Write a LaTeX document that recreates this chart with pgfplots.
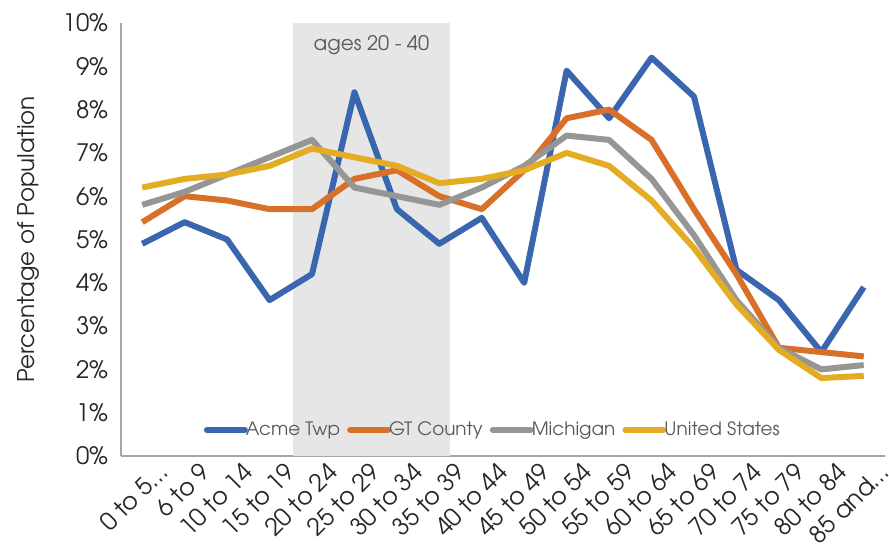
\documentclass[border=0pt]{standalone}
\usepackage{pgfplots}
\pgfplotsset{compat=1.18}
\usepackage{fontspec}
\setmainfont{texgyreadventor}[Extension=.otf, UprightFont=*-regular, BoldFont=*-bold]
\definecolor{acme}{HTML}{3A66B0}
\definecolor{gtc}{HTML}{D9702A}
\definecolor{mich}{HTML}{969696}
\definecolor{usa}{HTML}{E3AC22}
\definecolor{band}{HTML}{E6E6E6}
\definecolor{axgray}{HTML}{A6A6A6}
\definecolor{txt}{HTML}{262626}
\definecolor{legtxt}{HTML}{595959}
\begin{document}
\begin{tikzpicture}
\begin{axis}[
  scale only axis, width=382pt, height=216.5pt,
  xmin=-0.5, xmax=17.5, ymin=0, ymax=10,
  axis x line*=bottom, axis y line*=left,
  axis line style={draw=axgray, line width=0.8pt},
  major tick length=0pt,
  xtick={0,...,17},
  xticklabels={0 to 5…,6 to 9,10 to 14,15 to 19,20 to 24,25 to 29,30 to 34,35 to 39,40 to 44,45 to 49,50 to 54,55 to 59,60 to 64,65 to 69,70 to 74,75 to 79,80 to 84,85 and…},
  ytick={0,...,10},
  yticklabels={0\%,1\%,2\%,3\%,4\%,5\%,6\%,7\%,8\%,9\%,10\%},
  tick label style={font=\fontsize{12}{14}\selectfont, text=txt},
  x tick label style={rotate=45, anchor=east, xshift=6.5pt, yshift=-11.5pt},
  y tick label style={xshift=-3pt},
  ylabel={Percentage of Population},
  ylabel style={font=\fontsize{11.5}{13}\selectfont, text=txt, yshift=5pt},
  legend style={at={(0.488,0.06)}, anchor=center, draw=none, fill=none,
    font=\fontsize{9.2}{11}\selectfont, text=legtxt,
    /tikz/every even column/.append style={column sep=1.5pt},
    /tikz/every odd column/.append style={column sep=-3pt}},
  legend columns=-1,
  legend image code/.code={\draw[#1, line width=3pt, line cap=round] (0pt,0pt) -- (19pt,0pt);},
  every axis plot/.append style={line width=3pt, line join=round, no markers},
  clip=false,
]
\fill[band] (axis cs:3.55,0) rectangle (axis cs:7.25,10);
\node[text=legtxt, font=\fontsize{10}{12}\selectfont] at (axis cs:5.4,9.5) {ages 20 - 40};
\coordinate (bl) at (rel axis cs:0,0);
\coordinate (tr) at (rel axis cs:1,1);
\addplot[acme] coordinates {(0,4.9) (1,5.4) (2,5.0) (3,3.6) (4,4.2) (5,8.4) (6,5.7) (7,4.9) (8,5.5) (9,4.0) (10,8.9) (11,7.8) (12,9.2) (13,8.3) (14,4.3) (15,3.6) (16,2.4) (17,3.9)};
\addlegendentry{Acme Twp}
\addplot[gtc] coordinates {(0,5.4) (1,6.0) (2,5.9) (3,5.7) (4,5.7) (5,6.4) (6,6.6) (7,6.0) (8,5.7) (9,6.6) (10,7.8) (11,8.0) (12,7.3) (13,5.7) (14,4.2) (15,2.5) (16,2.4) (17,2.3)};
\addlegendentry{GT County}
\addplot[mich] coordinates {(0,5.8) (1,6.1) (2,6.5) (3,6.9) (4,7.3) (5,6.2) (6,6.0) (7,5.8) (8,6.2) (9,6.7) (10,7.4) (11,7.3) (12,6.4) (13,5.1) (14,3.6) (15,2.5) (16,2.0) (17,2.1)};
\addlegendentry{Michigan}
\addplot[usa] coordinates {(0,6.2) (1,6.4) (2,6.5) (3,6.7) (4,7.1) (5,6.9) (6,6.7) (7,6.3) (8,6.4) (9,6.6) (10,7.0) (11,6.7) (12,5.9) (13,4.8) (14,3.5) (15,2.45) (16,1.8) (17,1.85)};
\addlegendentry{United States}
\end{axis}
\pgfresetboundingbox
\path ([xshift=-60.5pt,yshift=-44pt]bl) rectangle ([xshift=2pt,yshift=11.5pt]tr);
\end{tikzpicture}
\end{document}
